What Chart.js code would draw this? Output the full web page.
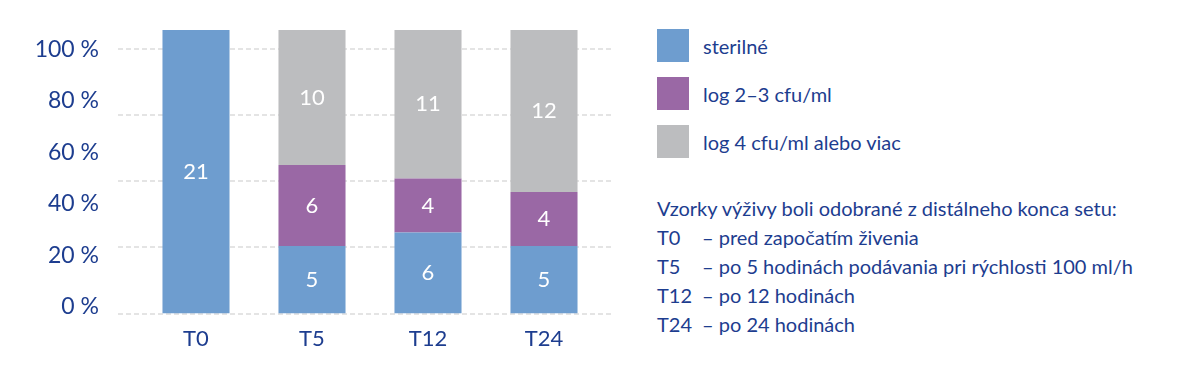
<!DOCTYPE html>
<html lang="sk">
<head>
  <meta charset="UTF-8">
  <title>Kontaminácia výživy</title>
  <script src="https://cdn.jsdelivr.net/npm/chart.js"></script>
  <style>
    body { margin: 0; background: #fff; font-family: Lato, sans-serif; color: #1d3d8f; }
    .wrap { position: relative; width: 1200px; height: 365px; }
    .chart-box { position: absolute; left: 0; top: 0; width: 640px; height: 365px; }
    .legend { position: absolute; left: 657px; top: 29px; margin: 0; padding: 0; list-style: none; }
    .legend li { display: flex; align-items: center; height: 33px; margin-bottom: 15px; font-size: 20px; }
    .legend .swatch { width: 32px; height: 33px; margin-right: 14px; }
    .note { position: absolute; left: 657px; top: 194px; font-size: 20px; line-height: 29px; }
    .note .t { display: inline-block; min-width: 45px; }
  </style>
</head>
<body>
  <div class="wrap">
    <div class="chart-box"><canvas id="chart"></canvas></div>
    <ul class="legend" id="legend"></ul>
    <div class="note">
      <div>Vzorky výživy boli odobrané z distálneho konca setu:</div>
      <div><span class="t">T0</span>– pred započatím živenia</div>
      <div><span class="t">T5</span>– po 5 hodinách podávania pri rýchlosti 100 ml/h</div>
      <div><span class="t">T12</span>– po 12 hodinách</div>
      <div><span class="t">T24</span>– po 24 hodinách</div>
    </div>
  </div>

  <script>
    // data
    const CATEGORIES = ['T0', 'T5', 'T12', 'T24'];
    const STERILE = [21, 5, 6, 5];
    const LOG_2_3 = [0, 6, 4, 4];
    const LOG_4 = [0, 10, 11, 12];
    const SERIES_NAMES = ['sterilné', 'log 2–3 cfu/ml', 'log 4 cfu/ml alebo viac'];
    const PCT_TICKS = [0, 20, 40, 60, 80, 100];
    const GRID_TICKS = [0, 4.9, 9.8, 14.7, 19.6];

    const COLORS = ['#6e9dcf', '#9a68a5', '#bcbdbf'];
    const TEXT = '#1d3d8f';

    // html legend
    const legend = document.getElementById('legend');
    SERIES_NAMES.forEach((name, i) => {
      const li = document.createElement('li');
      li.innerHTML = '<span class="swatch" style="background:' + COLORS[i] + '"></span>' + name;
      legend.appendChild(li);
    });

    // dashed gridlines, a bit wider than the plot area
    const dashedGrid = {
      id: 'dashedGrid',
      beforeDatasetsDraw(chart) {
        const { ctx, chartArea, scales } = chart;
        ctx.save();
        ctx.strokeStyle = '#dcdcdc';
        ctx.lineWidth = 1.5;
        ctx.setLineDash([5, 3]);
        GRID_TICKS.forEach(v => {
          const y = Math.round(scales.y.getPixelForValue(v));
          ctx.beginPath();
          ctx.moveTo(chartArea.left - 20, y);
          ctx.lineTo(chartArea.right + 9, y);
          ctx.stroke();
        });
        ctx.restore();
      }
    };

    // counts written inside the bars
    const barValues = {
      id: 'barValues',
      afterDatasetsDraw(chart) {
        const ctx = chart.ctx;
        ctx.save();
        ctx.fillStyle = '#fff';
        ctx.font = '22px Lato';
        ctx.textAlign = 'center';
        ctx.textBaseline = 'middle';
        chart.data.datasets.forEach((ds, i) => {
          chart.getDatasetMeta(i).data.forEach((bar, j) => {
            const v = ds.data[j];
            if (!v) return;
            ctx.fillText(v, bar.x, (bar.y + bar.base) / 2);
          });
        });
        ctx.restore();
      }
    };

    const series = [STERILE, LOG_2_3, LOG_4];

    new Chart(document.getElementById('chart'), {
      type: 'bar',
      data: {
        labels: CATEGORIES,
        datasets: series.map((d, i) => ({
          label: SERIES_NAMES[i],
          data: d,
          backgroundColor: COLORS[i],
          borderWidth: 0,
          categoryPercentage: 1,
          barPercentage: 0.578
        }))
      },
      options: {
        responsive: true,
        maintainAspectRatio: false,
        animation: false,
        layout: { padding: { top: 30, right: 38, bottom: 1, left: 0 } },
        plugins: {
          legend: { display: false },
          tooltip: { enabled: false }
        },
        scales: {
          x: {
            stacked: true,
            grid: { display: false, drawTicks: false },
            border: { display: false },
            ticks: { color: TEXT, font: { family: 'Lato', size: 22 }, padding: 12 }
          },
          y: {
            stacked: true,
            display: false,
            min: 0,
            max: 21
          },
          yPct: {
            position: 'left',
            weight: 1,
            min: -2.6,
            max: 107.6,
            grid: { display: false, drawTicks: false },
            border: { display: false },
            afterBuildTicks: axis => { axis.ticks = PCT_TICKS.map(v => ({ value: v })); },
            afterFit: axis => {
              axis.width = 138;
              axis.paddingTop = 0;
              axis.paddingBottom = 0;
            },
            ticks: {
              color: TEXT,
              font: { family: 'Lato', size: 23 },
              padding: 39,
              callback: v => v + ' %'
            }
          }
        }
      },
      plugins: [dashedGrid, barValues]
    });
  </script>
</body>
</html>
